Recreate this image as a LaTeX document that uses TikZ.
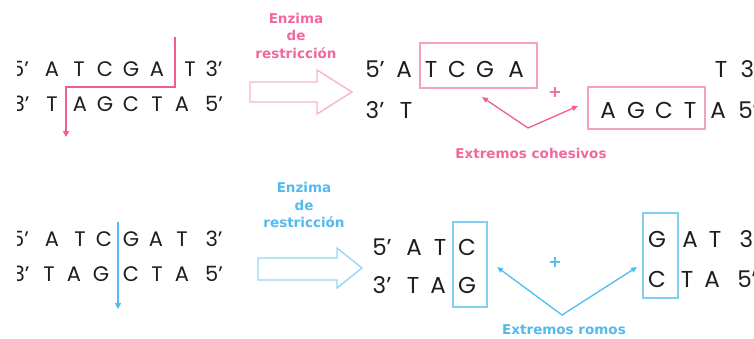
\documentclass[tikz,border=0pt]{standalone}
\usepackage{fontspec}
\setmainfont{Poppins}
\newfontfamily\labfont{DejaVu Sans}
\usetikzlibrary{arrows.meta}
\definecolor{pinkln}{RGB}{240,92,148}
\definecolor{pinktx}{RGB}{242,104,158}
\definecolor{pinkbx}{RGB}{244,160,190}
\definecolor{pinkar}{RGB}{247,180,204}
\definecolor{bluln}{RGB}{80,188,240}
\definecolor{blutx}{RGB}{84,186,238}
\definecolor{blubx}{RGB}{130,206,242}
\definecolor{bluar}{RGB}{150,214,245}
\definecolor{dnak}{RGB}{30,30,30}
\tikzset{
  let/.style={inner sep=0pt, anchor=base, text=dnak, font=\fontsize{21}{21}\selectfont},
  letr/.style={let, font=\fontsize{23}{23}\selectfont},
  lab/.style={inner sep=0pt, anchor=base, font=\labfont\bfseries\fontsize{13.5}{13.5}\selectfont},
  boxp/.style={draw=pinkbx, line width=1.4pt, inner sep=0pt},
  boxb/.style={draw=blubx, line width=1.4pt, inner sep=0pt},
  cutp/.style={draw=pinkln, line width=2pt, -{Triangle[length=6pt,width=6pt]}},
  cutb/.style={draw=bluln, line width=2pt, -{Triangle[length=6pt,width=6pt]}},
  vp/.style={draw=pinkln, line width=1.3pt, -{Triangle[length=6pt,width=5pt]}},
  vb/.style={draw=bluln, line width=1.3pt, -{Triangle[length=6pt,width=5pt]}},
  hollowp/.style={draw=pinkar, line width=1.4pt, line join=miter},
  hollowb/.style={draw=bluar, line width=1.4pt, line join=miter},
}
\newcommand\dnarow[4]{%
  \foreach \xx/\ll [count=\ii] in {#4} {\node[#3] (#1\ii) at (\xx,#2) {\ll};}}
\begin{document}
\begin{tikzpicture}[x=1pt,y=-1pt]
\useasboundingbox[fill=white] (0,0) rectangle (754,338);
\begin{scope}
\clip (17,0) rectangle (754,338);
% top-left DNA
\dnarow{tla}{76}{let}{20/5’,52/A,79/T,105/C,131/G,157/A,190/T,214/3’}
\dnarow{tlb}{111}{let}{21/3’,52/T,80/A,105/G,131/C,157/T,182/A,214/5’}
% bottom-left DNA
\dnarow{bla}{246}{let}{20/5’,52/A,80/T,104/C,131/G,156/A,182/T,214/3’}
\dnarow{blb}{281}{let}{21/3’,49/T,74/A,101/G,131/C,157/T,182/A,214/5’}
\end{scope}
% top-right fragments
\dnarow{tra}{77}{letr}{375/5’,404/A,431/T,457/C,485/G,516/A,721/T,750/3’}
\dnarow{trb}{118}{letr}{375/3’,406/T,608/A,636/G,664/C,690/T,718/A,748/5’}
% bottom-right fragments
\dnarow{bra}{255}{letr}{382/5’,414/A,440/T,467/C}
\dnarow{brb}{293}{letr}{382/3’,413/T,438/A,467/G}
\dnarow{brc}{247}{letr}{657/G,690/A,715/T,749/3’}
\dnarow{brd}{287}{letr}{657/C,687/T,712/A,747/5’}
% boxes
\node[boxp, minimum width=117pt, minimum height=45pt] (bx1) at (478.5,65.5) {};
\node[boxp, minimum width=117pt, minimum height=42pt] (bx2) at (646.5,108) {};
\node[boxb, minimum width=34pt, minimum height=85pt] (bx3) at (470,264.5) {};
\node[boxb, minimum width=35pt, minimum height=85pt] (bx4) at (660.5,255.5) {};
% cut lines
\coordinate (pc1) at (175,37);
\coordinate (pc2) at (175,87);
\coordinate (pc3) at (66,87);
\coordinate (pc4) at (66,137);
\draw[cutp] (pc1) -- (pc2) -- (pc3) -- (pc4);
\coordinate (bc1) at (118,222);
\coordinate (bc2) at (118,309);
\draw[cutb] (bc1) -- (bc2);
% hollow arrows
\draw[hollowp] (250,82) -- (317,82) -- (317,70) -- (352,92) -- (317,114) -- (317,102) -- (250,102) -- cycle;
\draw[hollowb] (258,258) -- (337,258) -- (337,248) -- (362,268) -- (337,288) -- (337,280) -- (258,280) -- cycle;
% enzyme labels
\node[lab, text=pinktx] (e1) at (296,23) {Enzima};
\node[lab, text=pinktx] (e2) at (296,40) {de};
\node[lab, text=pinktx] (e3) at (296,58) {restricción};
\node[lab, text=blutx] (f1) at (304,192) {Enzima};
\node[lab, text=blutx] (f2) at (304,210) {de};
\node[lab, text=blutx] (f3) at (304,227) {restricción};
% plus signs
\node[lab, anchor=center, text=pinktx, font=\labfont\bfseries\fontsize{16}{16}\selectfont] (p1) at (555,92) {+};
\node[lab, anchor=center, text=blutx, font=\labfont\bfseries\fontsize{16}{16}\selectfont] (p2) at (555,262) {+};
% V connectors
\coordinate (v1) at (528,128);
\coordinate (v1a) at (482,97);
\coordinate (v1b) at (578,106);
\draw[vp] (v1) -- (v1a);
\draw[vp] (v1) -- (v1b);
\coordinate (v2) at (562,315);
\coordinate (v2a) at (497,267);
\coordinate (v2b) at (637,267);
\draw[vb] (v2) -- (v2a);
\draw[vb] (v2) -- (v2b);
% bottom labels
\node[lab, text=pinktx] (x1) at (531,158) {Extremos cohesivos};
\node[lab, text=blutx] (x2) at (564,334) {Extremos romos};
\end{tikzpicture}
\end{document}
